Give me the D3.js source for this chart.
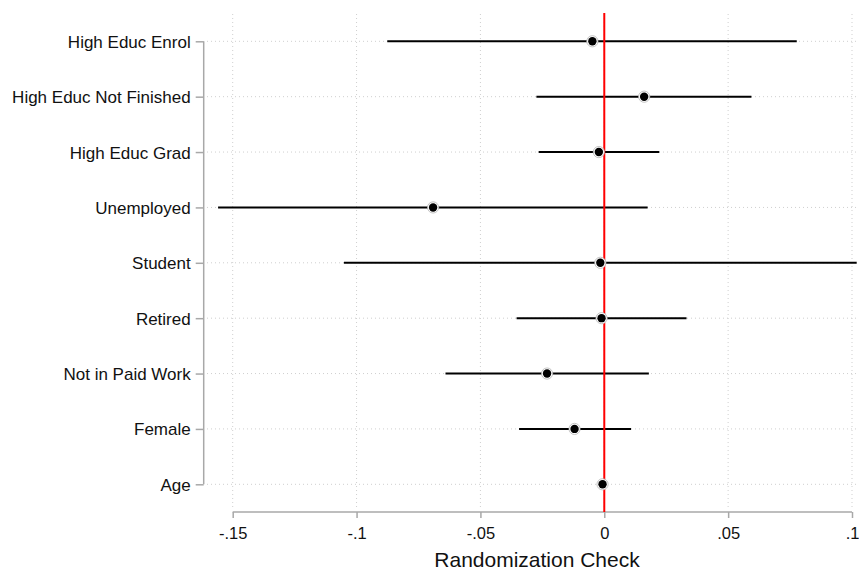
<!DOCTYPE html>
<html>
<head>
<meta charset="utf-8">
<script src="https://cdn.jsdelivr.net/npm/d3@7"></script>
<style>
  body { margin: 0; background: #fff; }
  text { font-family: "Liberation Sans", Arial, sans-serif; fill: #111; }
</style>
</head>
<body>
<script>
// coefficient plot data (top to bottom)
var categories = ["High Educ Enrol", "High Educ Not Finished", "High Educ Grad", "Unemployed",
                  "Student", "Retired", "Not in Paid Work", "Female", "Age"];
var estimates = [-0.0048, 0.0161, -0.0022, -0.0691, -0.0016, -0.0011, -0.0231, -0.0120, -0.0007];
var lower     = [-0.0876, -0.0274, -0.0265, -0.1559, -0.1051, -0.0354, -0.0641, -0.0344, -0.0012];
var upper     = [0.0777, 0.0594, 0.0222, 0.0175, 0.1019, 0.0332, 0.0180, 0.0108, -0.0002];
var xTicks = [-0.15, -0.1, -0.05, 0, 0.05, 0.1];
var xTickLabels = ["-.15", "-.1", "-.05", "0", ".05", ".1"];

var width = 859, height = 573;

var svg = d3.select("body").append("svg")
    .attr("width", width)
    .attr("height", height);

var x = d3.scaleLinear().domain([-0.15, 0.1]).range([232.7, 852]);
var y = d3.scalePoint().domain(categories).range([41.3, 484.3]);

var plotLeft = 205, plotRight = 858, plotTop = 14, plotBottom = 512;

// grid lines
svg.append("g").selectAll("line").data(xTicks).enter().append("line")
    .attr("x1", d => x(d)).attr("x2", d => x(d))
    .attr("y1", plotTop).attr("y2", plotBottom - 2)
    .attr("stroke", "#cfcfcf").attr("stroke-width", 1)
    .attr("stroke-dasharray", "1,3");

svg.append("g").selectAll("line").data(categories).enter().append("line")
    .attr("x1", plotLeft + 2).attr("x2", plotRight)
    .attr("y1", d => y(d)).attr("y2", d => y(d))
    .attr("stroke", "#cfcfcf").attr("stroke-width", 1)
    .attr("stroke-dasharray", "1,3");

// y axis
var yAxis = svg.append("g")
    .attr("transform", "translate(" + 203.7 + ",0)")
    .call(d3.axisLeft(y).tickSize(8).tickPadding(5));
yAxis.select(".domain").attr("stroke", "#a8a8a8").attr("stroke-width", 1.5)
    .attr("d", "M0," + y.range()[0] + "V" + y.range()[1]);
yAxis.selectAll(".tick line").attr("stroke", "#a8a8a8").attr("stroke-width", 1.5);
yAxis.selectAll(".tick text").style("font-size", "17px").attr("dy", "0.35em").attr("fill", "#111");

// x axis
var xAxis = svg.append("g")
    .attr("transform", "translate(0," + plotBottom + ")")
    .call(d3.axisBottom(x).tickValues(xTicks)
        .tickFormat((d, i) => xTickLabels[i]).tickSize(6).tickPadding(9));
xAxis.select(".domain").attr("stroke", "#a8a8a8").attr("stroke-width", 1.5)
    .attr("d", "M" + x(-0.15) + ",0H" + x(0.1));
xAxis.selectAll(".tick line").attr("stroke", "#a8a8a8").attr("stroke-width", 1.5);
xAxis.selectAll(".tick text").style("font-size", "16.5px").attr("fill", "#111");

svg.append("text")
    .attr("x", 537).attr("y", 567)
    .attr("text-anchor", "middle")
    .style("font-size", "21px")
    .text("Randomization Check");

// confidence intervals
svg.append("g").selectAll("line").data(categories).enter().append("line")
    .attr("x1", (d, i) => x(lower[i])).attr("x2", (d, i) => x(upper[i]))
    .attr("y1", d => y(d)).attr("y2", d => y(d))
    .attr("stroke", "#000").attr("stroke-width", 2);

// reference line at zero
svg.append("line")
    .attr("x1", x(0)).attr("x2", x(0))
    .attr("y1", 13).attr("y2", plotBottom)
    .attr("stroke", "#ff0000").attr("stroke-width", 2);

// point estimates
var pts = svg.append("g").selectAll("g").data(categories).enter().append("g")
    .attr("transform", (d, i) => "translate(" + x(estimates[i]) + "," + y(d) + ")");
pts.append("circle").attr("r", 5.6).attr("fill", "#fff")
    .attr("stroke", "#b5b5b5").attr("stroke-width", 0.8);
pts.append("circle").attr("r", 4.2).attr("fill", "#000");
</script>
</body>
</html>
